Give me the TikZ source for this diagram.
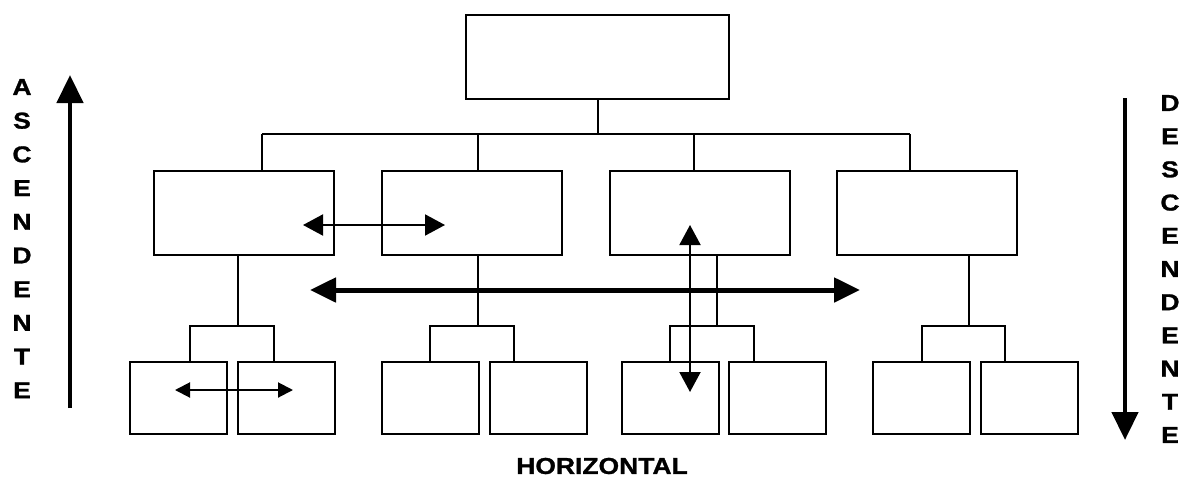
\documentclass[tikz,border=0pt]{standalone}
\usepackage{fontspec}
\setmainfont{Liberation Sans}
\newfontfamily\lblfont[FakeStretch=1.15,FakeBold=1.2]{Liberation Sans Bold}
\usetikzlibrary{arrows.meta}
\tikzset{
  box/.style={draw, line width=2pt, inner sep=0pt},
  topbox/.style={box, minimum width=263pt, minimum height=84pt},
  midbox/.style={box, minimum width=180pt, minimum height=84pt},
  lowbox/.style={box, minimum width=97pt, minimum height=72pt},
  link/.style={line width=2pt},
  thinarrow/.style={line width=2pt, {Triangle[length=20pt,width=21pt]}-{Triangle[length=20pt,width=21pt]}},
  smallarrow/.style={line width=2pt, {Triangle[length=15pt,width=15pt]}-{Triangle[length=15pt,width=15pt]}},
  boldarrow/.style={line width=5pt, {Triangle[length=26pt,width=24pt]}-{Triangle[length=26pt,width=24pt]}},
  sidearrow/.style={line width=4.5pt, -{Triangle[length=28pt,width=26pt]}},
  lbl/.style={font=\lblfont\fontsize{23}{23}\selectfont, inner sep=0pt}
}
\begin{document}
\begin{tikzpicture}[x=1pt,y=-1pt]
\useasboundingbox (0,0) rectangle (1186,480);
% boxes
\node[topbox] (top) at (597.5,57) {};
\node[midbox] (m1) at (244,212.5) {};
\node[midbox] (m2) at (472,212.5) {};
\node[midbox] (m3) at (700,212.5) {};
\node[midbox] (m4) at (927,212.5) {};
\node[lowbox] (b11) at (178.5,398) {};
\node[lowbox] (b12) at (286,398) {};
\node[lowbox] (b21) at (430.5,398) {};
\node[lowbox] (b22) at (538.5,398) {};
\node[lowbox] (b31) at (670,398) {};
\node[lowbox] (b32) at (777.5,398) {};
\node[lowbox] (b41) at (921,398) {};
\node[lowbox] (b42) at (1029,398) {};
% upper bus
\coordinate (bus1) at (262,134);
\coordinate (bus2) at (478,134);
\coordinate (bus3) at (694,134);
\coordinate (bus4) at (910,134);
\draw[link] (top.south) -- (top.south |- bus1);
\draw[link] (bus1) -- (bus4);
\draw[link] (bus1) -- (bus1 |- m1.north);
\draw[link] (bus2) -- (bus2 |- m2.north);
\draw[link] (bus3) -- (bus3 |- m3.north);
\draw[link] (bus4) -- (bus4 |- m4.north);
% lower forks
\coordinate (f1) at (238,326);
\coordinate (f2) at (478,326);
\coordinate (f3) at (717,326);
\coordinate (f4) at (969,326);
\coordinate (fl1) at (190,326); \coordinate (fr1) at (274,326);
\coordinate (fl2) at (430,326); \coordinate (fr2) at (514,326);
\coordinate (fl3) at (670,326); \coordinate (fr3) at (754,326);
\coordinate (fl4) at (922,326); \coordinate (fr4) at (1005,326);
\draw[link] (m1.south -| f1) -- (f1);
\draw[link] (m2.south -| f2) -- (f2);
\draw[link] (m3.south -| f3) -- (f3);
\draw[link] (m4.south -| f4) -- (f4);
\draw[link] (fl1 |- b11.north) |- (fr1) -- (fr1 |- b12.north);
\draw[link] (fl2 |- b21.north) |- (fr2) -- (fr2 |- b22.north);
\draw[link] (fl3 |- b31.north) |- (fr3) -- (fr3 |- b32.north);
\draw[link] (fl4 |- b41.north) |- (fr4) -- (fr4 |- b42.north);
% relation arrows
\coordinate (a1l) at (303,225); \coordinate (a1r) at (445,225);
\draw[thinarrow] (a1l) -- (a1r);
\coordinate (a2l) at (310,290); \coordinate (a2r) at (860,290);
\draw[boldarrow] (a2l) -- (a2r);
\coordinate (a3t) at (690,225); \coordinate (a3b) at (690,392);
\draw[thinarrow] (a3t) -- (a3b);
\coordinate (a4l) at (175,390); \coordinate (a4r) at (293,390);
\draw[smallarrow] (a4l) -- (a4r);
% side arrows
\coordinate (asb) at (70,408); \coordinate (ast) at (70,75);
\draw[sidearrow] (asb) -- (ast);
\coordinate (dst) at (1125,98); \coordinate (dsb) at (1125,440);
\draw[sidearrow] (dst) -- (dsb);
% letters
\foreach \c [count=\i from 0] in {A,S,C,E,N,D,E,N,T,E}
  \node[lbl] (asc\i) at (22,87+33.7*\i) {\c};
\foreach \c [count=\i from 0] in {D,E,S,C,E,N,D,E,N,T,E}
  \node[lbl] (des\i) at (1170,103+33.2*\i) {\c};
\node[lbl] (hor) at (602,466) {HORIZONTAL};
\end{tikzpicture}
\end{document}
